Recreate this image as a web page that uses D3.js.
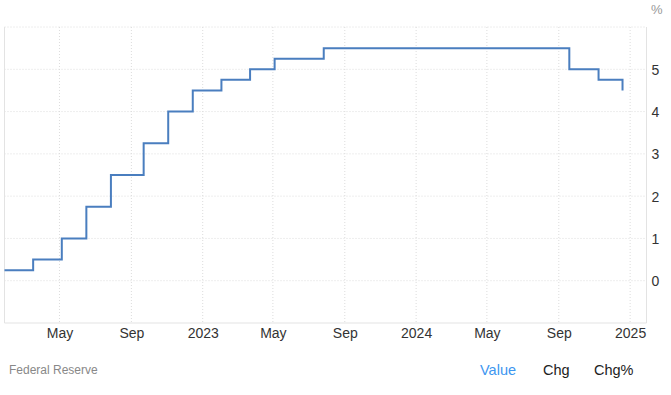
<!DOCTYPE html>
<html>
<head>
<meta charset="utf-8">
<script src="https://cdn.jsdelivr.net/npm/d3@7"></script>
<style>
  body { margin: 0; background: #fff; }
  svg { display: block; font-family: "Liberation Sans", Arial, sans-serif; }
  .tick text { fill: #333; font-size: 14px; }
</style>
</head>
<body>
<script>
// Fed funds target (upper bound) at each FOMC change
var dates = ['2022-01-27', '2022-03-17', '2022-05-05', '2022-06-16', '2022-07-28',
             '2022-09-22', '2022-11-03', '2022-12-15', '2023-02-02', '2023-03-23',
             '2023-05-04', '2023-07-27', '2024-09-19', '2024-11-08', '2024-12-19'];
var rates = [0.25, 0.5, 1, 1.75, 2.5, 3.25, 4, 4.5, 4.75, 5, 5.25, 5.5, 5, 4.75, 4.5];
var yTicks = [0, 1, 2, 3, 4, 5];
var footerTabs = ['Value', 'Chg', 'Chg%'];

var W = 671, H = 395;
var margin = {top: 27, right: 24.5, bottom: 72, left: 4.5},
    width = W - margin.left - margin.right,
    height = H - margin.top - margin.bottom;

var parse = d3.timeParse('%Y-%m-%d');
var data = dates.map(function(d, i) { return [parse(d), rates[i]]; });

var xScale = d3.scaleTime()
    .domain([parse('2022-01-27'), parse('2025-01-29')])
    .range([0, width]);
var yScale = d3.scaleLinear().domain([-1, 6]).range([height, 0]);

var svg = d3.select('body').append('svg')
    .attr('width', W)
    .attr('height', H);

var g = svg.append('g')
    .attr('transform', 'translate(' + margin.left + ',' + margin.top + ')');

// grid
var xTicks = xScale.ticks(d3.timeMonth.every(4));
g.selectAll('.vgrid').data(xTicks).enter().append('line')
    .attr('x1', function(d) { return xScale(d); })
    .attr('x2', function(d) { return xScale(d); })
    .attr('y1', 0).attr('y2', height)
    .attr('stroke', '#dcdcdc').attr('stroke-dasharray', '1,2');

g.selectAll('.hgrid').data(d3.range(0, 7)).enter().append('line')
    .attr('x1', 0).attr('x2', width)
    .attr('y1', function(d) { return yScale(d); })
    .attr('y2', function(d) { return yScale(d); })
    .attr('stroke', '#dcdcdc').attr('stroke-dasharray', '1,2');

// borders
g.append('line').attr('x1', 0).attr('x2', 0).attr('y1', 0).attr('y2', height)
    .attr('stroke', '#e3e3e3');
g.append('line').attr('x1', width).attr('x2', width).attr('y1', 0).attr('y2', height)
    .attr('stroke', '#e3e3e3');
g.append('line').attr('x1', 0).attr('x2', width).attr('y1', height).attr('y2', height)
    .attr('stroke', '#e3e3e3');

// line
var drawLine = d3.line()
    .curve(d3.curveStepAfter)
    .x(function(d) { return xScale(d[0]); })
    .y(function(d) { return yScale(d[1]); });

g.append('path')
    .attr('d', drawLine(data))
    .attr('stroke', '#4a7ebf')
    .attr('fill', 'none')
    .attr('stroke-width', 2);

// X-axis
var fmt = function(d) { return d.getMonth() === 0 ? d3.timeFormat('%Y')(d) : d3.timeFormat('%b')(d); };
g.append('g')
    .attr('transform', 'translate(0,' + height + ')')
    .call(d3.axisBottom(xScale).tickValues(xTicks).tickFormat(fmt).tickSize(0).tickPadding(5))
    .call(function(a) { a.select('.domain').remove(); })
    .selectAll('text').attr('dy', '0.71em');

// Y-axis
g.append('g')
    .attr('transform', 'translate(' + width + ',0)')
    .call(d3.axisRight(yScale).tickValues(yTicks).tickFormat(d3.format('d')).tickSize(0).tickPadding(5))
    .call(function(a) { a.select('.domain').remove(); })
    .selectAll('text').attr('dy', '0.36em');

svg.append('text')
    .text('%')
    .attr('x', 651).attr('y', 14)
    .attr('fill', '#999')
    .style('font-size', '13px');

// footer
svg.append('text')
    .text('Federal Reserve')
    .attr('x', 9).attr('y', 374)
    .attr('fill', '#888')
    .style('font-size', '12px');

var tabX = [480, 543, 594];
svg.selectAll('.tab').data(footerTabs).enter().append('text')
    .text(function(d) { return d; })
    .attr('x', function(d, i) { return tabX[i]; })
    .attr('y', 375)
    .attr('fill', function(d, i) { return i === 0 ? '#3d96f0' : '#222'; })
    .style('font-size', '14.5px');
</script>
</body>
</html>
